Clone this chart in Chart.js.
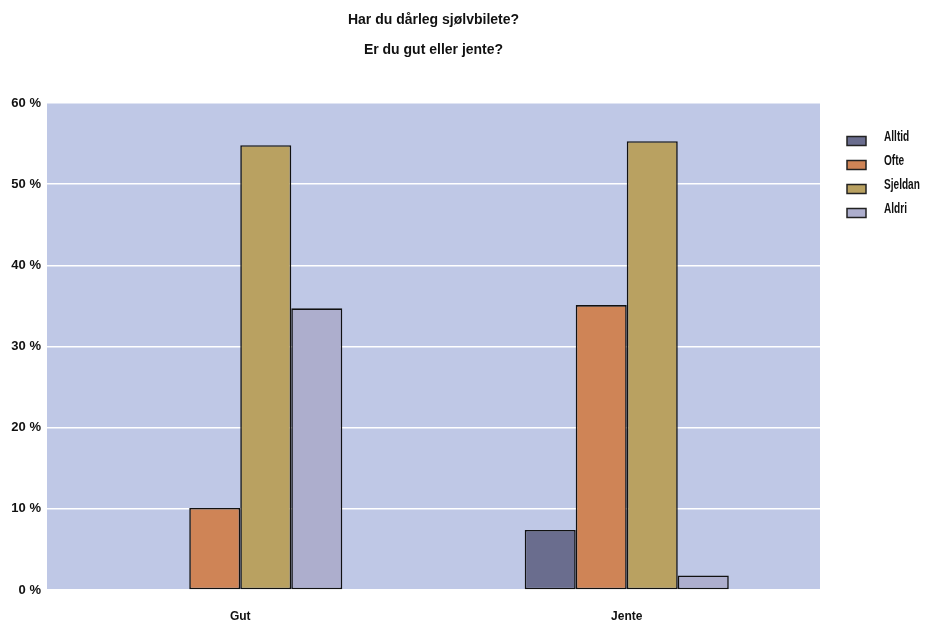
<!DOCTYPE html>
<html>
<head>
<meta charset="utf-8">
<script src="https://cdn.jsdelivr.net/npm/chart.js@4.4.1/dist/chart.umd.min.js"></script>
<style>
  html, body { margin: 0; padding: 0; background: #ffffff; }
  #wrap { width: 932px; height: 623px; }
</style>
</head>
<body>
<div id="wrap"><canvas id="c" width="932" height="623"></canvas></div>
<script>
// Survey answers in percent, one series per answer option
const categories = ['Gut', 'Jente'];
const alltid  = [0, 7.4];
const ofte    = [10.1, 35.1];
const sjeldan = [54.8, 55.3];
const aldri   = [34.7, 1.8];
const titleLines = ['Har du dårleg sjølvbilete?', 'Er du gut eller jente?'];

const FONT = '"Liberation Sans", Arial, sans-serif';

// Fills the plot area with the pale blue background
const plotBackground = {
  id: 'plotBackground',
  beforeDraw(chart) {
    const { ctx, chartArea: a } = chart;
    ctx.save();
    ctx.fillStyle = '#bfc8e6';
    ctx.fillRect(a.left, a.top, a.right - a.left, a.bottom - a.top);
    ctx.restore();
  }
};

// Two-line heading centred over the plot area
const heading = {
  id: 'heading',
  afterDraw(chart) {
    const { ctx, chartArea: a } = chart;
    ctx.save();
    ctx.font = 'bold 14px ' + FONT;
    ctx.fillStyle = '#111111';
    ctx.textAlign = 'center';
    ctx.textBaseline = 'middle';
    const cx = (a.left + a.right) / 2;
    ctx.fillText(titleLines[0], cx, 20);
    ctx.fillText(titleLines[1], cx, 50);
    ctx.restore();
  }
};

// Legend to the right of the plot, built from the datasets (condensed text)
const sideLegend = {
  id: 'sideLegend',
  afterDraw(chart) {
    const { ctx } = chart;
    chart.data.datasets.forEach((d, i) => {
      const cy = 141 + i * 24;
      ctx.save();
      ctx.fillStyle = d.backgroundColor;
      ctx.fillRect(847, cy - 4.5, 19, 9);
      ctx.strokeStyle = '#222222';
      ctx.lineWidth = 1.5;
      ctx.strokeRect(847, cy - 4.5, 19, 9);
      ctx.translate(884, cy - 4);
      ctx.scale(0.72, 1);
      ctx.font = 'bold 14px ' + FONT;
      ctx.textAlign = 'left';
      ctx.textBaseline = 'middle';
      ctx.fillStyle = '#111111';
      ctx.fillText(d.label, 0, 0);
      ctx.restore();
    });
  }
};

const ds = (label, data, color) => ({
  label, data,
  backgroundColor: color,
  borderColor: '#111111',
  borderWidth: 1.6,
  borderSkipped: false,
  barPercentage: 1.0,
  categoryPercentage: 0.528
});

new Chart(document.getElementById('c'), {
  type: 'bar',
  data: {
    labels: categories,
    datasets: [
      ds('Alltid', alltid, '#6a6d8e'),
      ds('Ofte', ofte, '#cf8456'),
      ds('Sjeldan', sjeldan, '#b9a161'),
      ds('Aldri', aldri, '#adaecd')
    ]
  },
  options: {
    responsive: false,
    animation: false,
    layout: { padding: { top: 103, left: 0, right: 112, bottom: 0 } },
    plugins: {
      title: { display: false },
      tooltip: { enabled: false },
      legend: { display: false }
    },
    scales: {
      x: {
        afterFit(scale) { scale.height = 33; },
        grid: { display: false, drawTicks: false },
        border: { display: false },
        ticks: {
          color: '#111111',
          padding: 19,
          font: { family: FONT, size: 12, weight: 'bold' }
        }
      },
      y: {
        min: 0,
        max: 60,
        afterFit(scale) { scale.width = 47; },
        border: { display: false },
        grid: { color: '#ffffff', lineWidth: 1.5, drawTicks: false },
        ticks: {
          stepSize: 10,
          padding: 6,
          color: '#111111',
          font: { family: FONT, size: 13, weight: 'bold' },
          callback: v => v + ' %'
        }
      }
    }
  },
  plugins: [plotBackground, heading, sideLegend]
});
</script>
</body>
</html>
